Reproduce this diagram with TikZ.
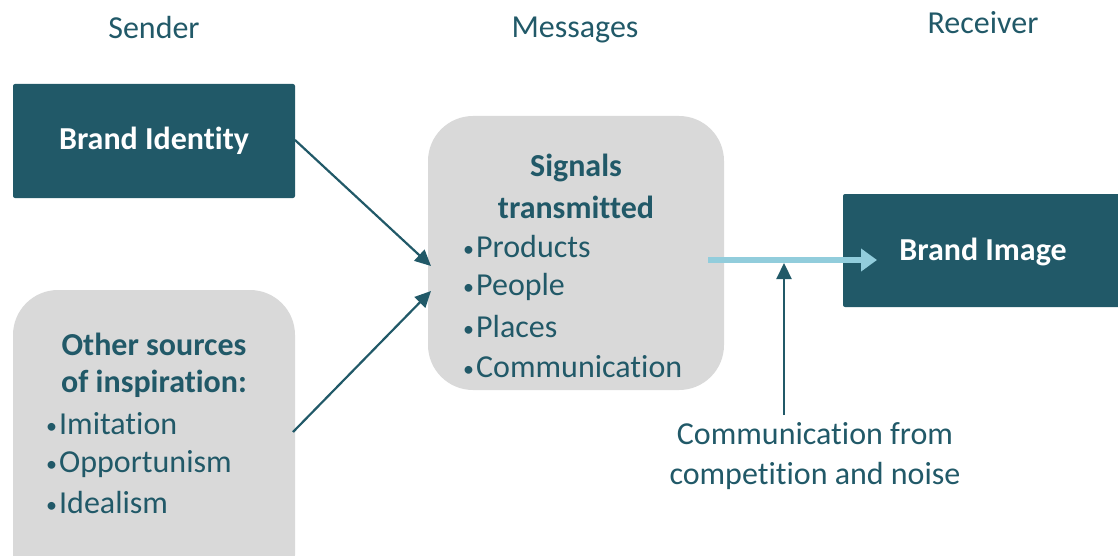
\documentclass[tikz,border=0pt]{standalone}
\usepackage{fontspec}
\setmainfont{Carlito}[Ligatures={NoCommon}]
\usetikzlibrary{arrows.meta}
\definecolor{teal}{HTML}{215968}
\definecolor{boxgray}{HTML}{D9D9D9}
\definecolor{lblue}{HTML}{92CDDC}
\newcommand{\bul}{{\fontsize{22}{22}\selectfont\raisebox{1pt}{•}}\kern2pt}
\begin{document}
\begin{tikzpicture}[x=1pt,y=-1pt,
  darkbox/.style={fill=teal,rounded corners=2pt,text=white,font=\fontsize{32}{36}\selectfont\bfseries},
  graybox/.style={fill=boxgray,rounded corners=45pt},
  hdr/.style={text=teal,font=\fontsize{32}{36}\selectfont},
  head/.style={text=teal,font=\fontsize{32}{36}\selectfont\bfseries},
  item/.style={text=teal,font=\fontsize{32}{36}\selectfont,anchor=west,inner sep=0pt},
  conn/.style={draw=teal,line width=2.2pt,-{Triangle[length=16pt,width=15pt]}},
  signal/.style={draw=lblue,line width=6.5pt,-{Triangle[length=16pt,width=22pt]}}]
\useasboundingbox (0,0) rectangle (1118,556);
\clip (0,0) rectangle (1118,556);
% headers
\node[hdr] (hsender) at (154,28) {Sender};
\node[hdr] (hmsg) at (575,30) {Messages};
\node[hdr] (hrecv) at (983,23) {Receiver};
% boxes
\node[darkbox,minimum width=282pt,minimum height=114pt] (identity) at (154,141) {Brand Identity};
\node[darkbox,minimum width=290pt,minimum height=113pt] (image) at (988,250.5) {};
\node[text=white,font=\fontsize{32}{36}\selectfont\bfseries] (imagetxt) at (983,252) {Brand Image};
\path[graybox] (13,290) rectangle (295,600);
\node[inner sep=0pt,minimum width=282pt,minimum height=266pt] (other) at (154,423) {};
\path[graybox] (428,116) rectangle (724,390);
\node[inner sep=0pt,minimum width=296pt,minimum height=274pt] (signals) at (576,253) {};
% other sources text
\node[head] (oh1) at (154,344) {Other sources};
\node[head] (oh2) at (154,384) {of inspiration:};
\node[item] (o1) at (46,424) {\bul Imitation};
\node[item] (o2) at (46,464) {\bul Opportunism};
\node[item] (o3) at (46,503) {\bul Idealism};
% signals text
\node[head] (sh1) at (576,168) {Signals};
\node[head] (sh2) at (576,207) {transmitted};
\node[item] (s1) at (463,247) {\bul Products};
\node[item] (s2) at (463,287) {\bul People};
\node[item] (s3) at (463,327) {\bul Places};
\node[item] (s4) at (463,367) {\bul Communication};
% noise text
\node[hdr,align=center,font=\fontsize{32}{40}\selectfont] (noise) at (815,456) {Communication from\\competition and noise};
% connectors
\coordinate (a1s) at (295,140);
\coordinate (a1e) at (431,266);
\coordinate (a2s) at (293,432);
\coordinate (a2e) at (431,291);
\draw[conn] (a1s) -- (a1e);
\draw[conn] (a2s) -- (a2e);
\coordinate (bs) at (708,260);
\coordinate (be) at (877,260);
\draw[signal] (bs) -- (be);
\coordinate (ns) at (784,415);
\coordinate (ne) at (784,263);
\draw[conn] (ns) -- (ne);
\end{tikzpicture}
\end{document}
